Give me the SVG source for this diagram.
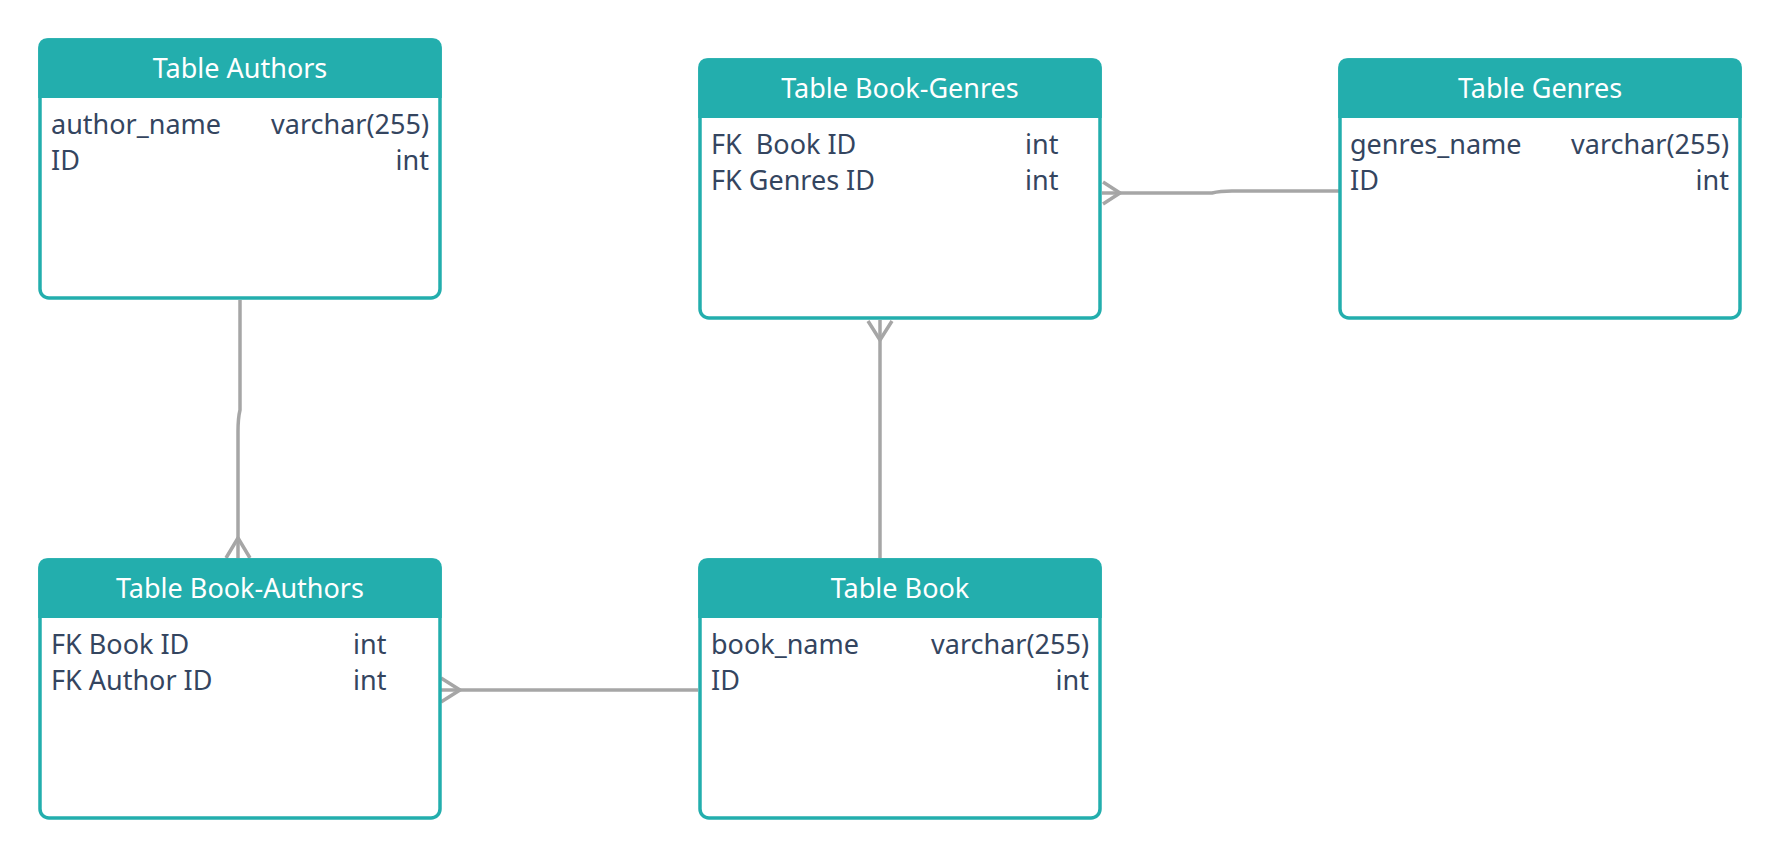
<svg xmlns="http://www.w3.org/2000/svg" xmlns:xlink="http://www.w3.org/1999/xlink" width="1780" height="860" viewBox="0 0 1780 860">
  <style>
    .frame { fill: #ffffff; stroke: #23AEAD; stroke-width: 3.5; }
    .head { fill: #23AEAD; }
    .title { font-family: "Noto Sans", "Open Sans", sans-serif; font-size: 27px; fill: #ffffff; text-anchor: middle; }
    .row { font-family: "Noto Sans", "Open Sans", sans-serif; font-size: 27px; fill: #34455F; }
    .end { text-anchor: end; }
    .conn { fill: none; stroke: #A6A6A6; stroke-width: 3.5; stroke-linejoin: round; }
  </style>
  <defs>
    <g id="table">
      <rect class="frame" x="2" y="2" width="400" height="258" rx="9"/>
      <path class="head" d="M0.25,60 V10 Q0.25,0.25 10,0.25 H394 Q403.75,0.25 403.75,10 V60 Z"/>
    </g>
  </defs>

  <g id="connectors">
    <!-- Authors -> Book-Authors -->
    <path class="conn" d="M240,300 V410 Q238,418 238,432 V558"/>
    <path class="conn" d="M226,558 L238,538 L250,558"/>
    <!-- Book-Authors -> Book -->
    <path class="conn" d="M440,690 H698"/>
    <path class="conn" d="M441,678 L460,690 L441,702"/>
    <!-- Book-Genres -> Book -->
    <path class="conn" d="M880,320 V558"/>
    <path class="conn" d="M868,321 L880,340 L892,321"/>
    <!-- Book-Genres -> Genres -->
    <path class="conn" d="M1102,193 H1212 Q1220,191 1232,191 H1339"/>
    <path class="conn" d="M1103,182 L1120,193 L1103,204"/>
  </g>

  <g id="table-authors" transform="translate(38,38)">
    <use xlink:href="#table" href="#table"/>
    <text class="title" x="202" y="40">Table Authors</text>
    <text class="row" x="13" y="96">author_name</text>
    <text class="row end" x="391" y="96">varchar(255)</text>
    <text class="row" x="13" y="132">ID</text>
    <text class="row end" x="391" y="132">int</text>
  </g>

  <g id="table-book-genres" transform="translate(698,58)">
    <use xlink:href="#table" href="#table"/>
    <text class="title" x="202" y="40">Table Book-Genres</text>
    <text class="row" x="13" y="96" xml:space="preserve">FK  Book ID</text>
    <text class="row" x="327" y="96">int</text>
    <text class="row" x="13" y="132">FK Genres ID</text>
    <text class="row" x="327" y="132">int</text>
  </g>

  <g id="table-genres" transform="translate(1338,58)">
    <use xlink:href="#table" href="#table"/>
    <text class="title" x="202" y="40">Table Genres</text>
    <text class="row" x="12" y="96">genres_name</text>
    <text class="row end" x="391" y="96">varchar(255)</text>
    <text class="row" x="12" y="132">ID</text>
    <text class="row end" x="391" y="132">int</text>
  </g>

  <g id="table-book-authors" transform="translate(38,558)">
    <use xlink:href="#table" href="#table"/>
    <text class="title" x="202" y="40">Table Book-Authors</text>
    <text class="row" x="13" y="96">FK Book ID</text>
    <text class="row" x="315" y="96">int</text>
    <text class="row" x="13" y="132">FK Author ID</text>
    <text class="row" x="315" y="132">int</text>
  </g>

  <g id="table-book" transform="translate(698,558)">
    <use xlink:href="#table" href="#table"/>
    <text class="title" x="202" y="40">Table Book</text>
    <text class="row" x="13" y="96">book_name</text>
    <text class="row end" x="391" y="96">varchar(255)</text>
    <text class="row" x="13" y="132">ID</text>
    <text class="row end" x="391" y="132">int</text>
  </g>
</svg>
